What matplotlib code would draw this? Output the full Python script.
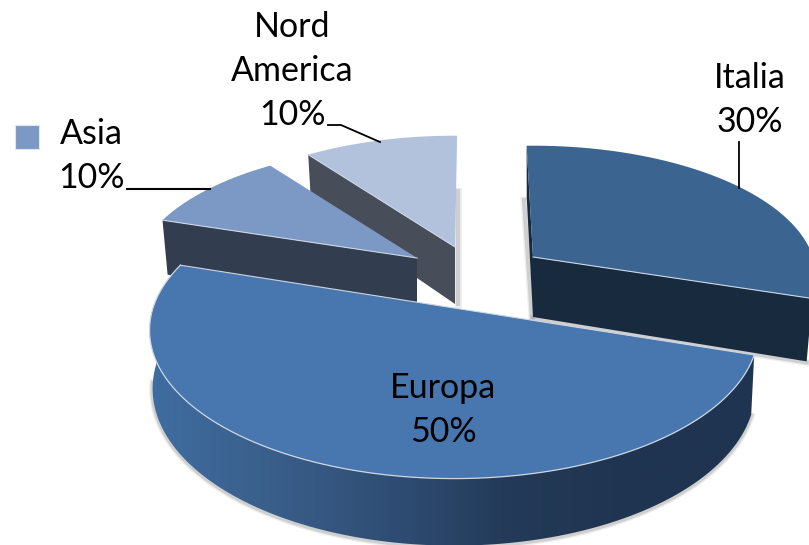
import numpy as np
import matplotlib
matplotlib.use('Agg')
import matplotlib.pyplot as plt
from matplotlib.colors import LinearSegmentedColormap
from matplotlib.patches import Polygon, Rectangle

# dati (senso orario da ore 12)
categories = ['Italia', 'Europa', 'Asia', 'Nord America']
shares = [30, 50, 10, 10]

# colori delle fette
top_colors = ['#3b6491', '#4876ae', '#7c98c4', '#b2c1dc']
face_colors = ['#182a3d', '#1f3450', '#333d50', '#474d59']

# vista 3D: vertice di ogni fetta in pixel e raggi dell'ellisse
apex_x = [533, 454, 417, 455]
apex_y = [257, 308, 258, 247]
radius_a = [280, 301, 280, 280]
radius_b = [128, 145, 128, 128]
depths = [60, 57, 57, 57]
bottom_scale = [0.98, 0.99, 0.98, 0.98]
skew_start = [1.5, 0, 0, 0]
skew_end = [0, 0, 0, -0.5]
start_angle = 90
persp = 0.15
edge_color = '#ccd6e4'
shadow_color = '#8c8c8c'


def rim(i, t, low=False):
    # punto sul bordo della fetta i per l'angolo t (gradi)
    t = np.radians(t)
    w = 1 + persp * np.sin(t)
    dx = radius_a[i] * np.cos(t) / w
    dy = -radius_b[i] * np.sin(t) / w
    if low:
        return apex_x[i] + bottom_scale[i] * dx, apex_y[i] + dy + depths[i] / w
    return apex_x[i] + dx, apex_y[i] + dy


def cut_face(i, t):
    # parete piana tra vertice e bordo
    x0, y0 = rim(i, t)
    x1, y1 = rim(i, t, low=True)
    return [(x0, y0), (apex_x[i], apex_y[i]), (apex_x[i], apex_y[i] + depths[i]), (x1, y1)]


fig = plt.figure(figsize=(8.09, 5.45), dpi=100)
ax = fig.add_axes([0, 0, 1, 1])
ax.set_xlim(0, 809)
ax.set_ylim(545, 0)
ax.axis('off')

bounds = np.concatenate([[0], np.cumsum(shares)]) * 3.6
t_start = start_angle - bounds[:-1] + skew_start
t_end = start_angle - bounds[1:] + skew_end

arcs = [np.linspace(t_start[i], t_end[i], 120) for i in range(4)]

# ombre grigie sfumate dietro le pareti
shadow_arc = arcs[1][arcs[1] > -175]
for lw, alpha in [(5, 0.15), (3, 0.3)]:
    ax.plot([apex_x[3] + 3, apex_x[3] + 3], [apex_y[3] - 56, apex_y[3] + depths[3]],
            color=shadow_color, lw=lw, alpha=alpha, zorder=1)
    ax.plot([apex_x[0] - 9, apex_x[0] - 1], [apex_y[0] - 57, apex_y[0] + depths[0]],
            color=shadow_color, lw=lw, alpha=alpha, zorder=1)
    xs, ys = zip(*[rim(1, t, low=True) for t in shadow_arc])
    ax.plot(xs, np.array(ys) + 1, color=shadow_color, lw=lw, alpha=alpha, zorder=1)
    x_end, y_end = rim(0, t_end[0], low=True)
    ax.plot([apex_x[0], x_end], [apex_y[0] + depths[0] + 1, y_end + 1],
            color=shadow_color, lw=lw, alpha=alpha, zorder=1)

# ordine: dal fondo verso il davanti
for z, i in enumerate([3, 2, 0, 1]):
    zb = 2 + z * 3
    if i in (2, 3):
        ax.add_patch(Polygon(cut_face(i, t_start[i]), fc=face_colors[i], ec='none', zorder=zb))
    if i == 0:
        ax.add_patch(Polygon(cut_face(i, t_start[i]), fc=face_colors[i], ec='none', zorder=zb))
        ax.add_patch(Polygon(cut_face(i, t_end[i]), fc=face_colors[i], ec='none', zorder=zb))
    if i == 1:
        # parete esterna con sfumatura
        up = [rim(i, t) for t in arcs[i]]
        low = [rim(i, t, low=True) for t in arcs[i]]
        wall = Polygon(up + low[::-1], fc='none', ec='none', zorder=zb)
        ax.add_patch(wall)
        cmap = LinearSegmentedColormap.from_list(
            'wall', ['#3f6da1', '#3a5f8b', '#2f4d74', '#233a58', '#1f3450', '#1f3450'])
        img = ax.imshow(np.linspace(0, 1, 256).reshape(1, -1), cmap=cmap, aspect='auto',
                        extent=(148, 755, 545, 300), zorder=zb)
        img.set_clip_path(wall)
        ax.set_xlim(0, 809)
        ax.set_ylim(545, 0)

    pts = [(apex_x[i], apex_y[i])] + [rim(i, t) for t in arcs[i]]
    ax.add_patch(Polygon(pts, fc=top_colors[i], ec='none', zorder=zb + 1))

    # fili chiari sugli spigoli
    if i == 1:
        xs, ys = zip(*[rim(i, t) for t in arcs[i]])
        ax.plot(xs, ys, color=edge_color, lw=0.9, zorder=zb + 2)
        ax.plot([xs[0], xs[-1]], [ys[0], ys[-1]], color=edge_color, lw=0.8, zorder=zb + 2)
    else:
        t_edge = t_end[i] if i == 0 else t_start[i]
        x0, y0 = rim(i, t_edge)
        ax.plot([x0, apex_x[i]], [y0, apex_y[i]], color=edge_color, lw=0.8, zorder=zb + 2)

# tasto legenda
ax.add_patch(Rectangle((15, 125), 24, 24, fc=top_colors[2], ec='#dfe6f0', lw=0.8, zorder=20))

# linee guida
ax.plot([127, 210], [189, 189], color='black', lw=1.5, zorder=20)
ax.plot([328, 341, 380], [125, 125, 142], color='black', lw=1.3, zorder=20)
ax.plot([739, 739], [142, 188], color='black', lw=1.3, zorder=20)

# etichette
label_names = ['Italia', 'Europa', 'Asia', 'Nord\nAmerica']
label_x = [750, 443, 91, 292]
label_y = [100, 410, 156, 71]
for name, share, x, y in zip(label_names, shares, label_x, label_y):
    ax.text(x, y, f'{name}\n{share}%', ha='center', va='center', family='Lato',
            fontsize=24.5, linespacing=1.47, color='black', zorder=21)

fig.savefig('out.png', dpi=100)
